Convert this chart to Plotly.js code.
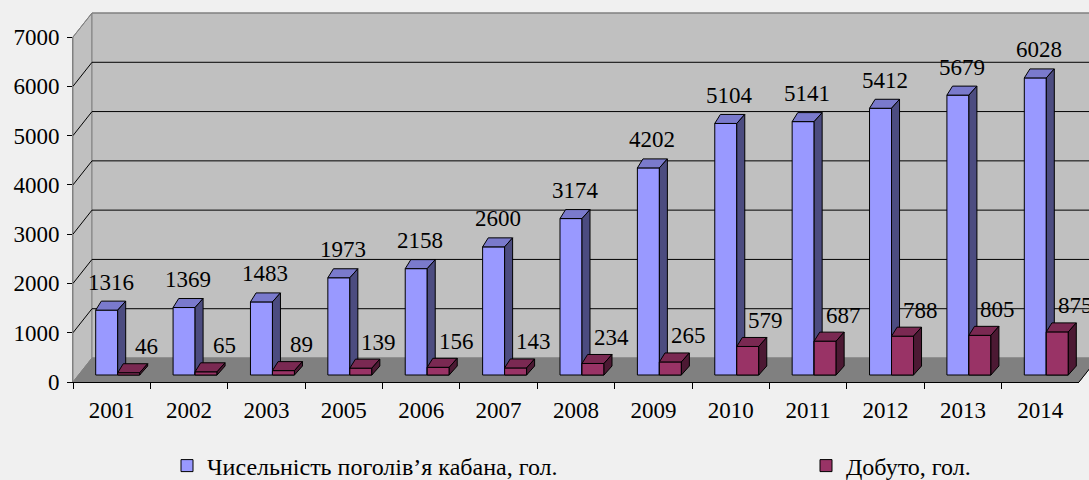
<!DOCTYPE html>
<html><head><meta charset="utf-8">
<script src="https://cdn.plot.ly/plotly-3.0.1.min.js"></script>
<style>html,body{margin:0;padding:0;background:#f0f0f0;} #chart{width:1089px;height:480px;}</style>
</head><body><div id="chart"></div>
<script>
// ---- data ----
const years = ['2001','2002','2003','2005','2006','2007','2008','2009','2010','2011','2012','2013','2014'];
const population = [1316,1369,1483,1973,2158,2600,3174,4202,5104,5141,5412,5679,6028];
const harvested = [46,65,89,139,156,143,234,265,579,687,788,805,875];
const seriesNames = ['Чисельність поголів’я кабана, гол.', 'Добуто, гол.'];
const yTicks = [0,1000,2000,3000,4000,5000,6000,7000];

// ---- geometry (pixels) ----
const W = 1089, H = 480;
const axisLeft = 73, axisRight = 1079;
const n = years.length;
const catW = (axisRight - axisLeft) / n;
const frontZeroPx = 382, frontTopPx = 37, yMax = 7000;
const k = (frontZeroPx - frontTopPx) / yMax;      // px per unit
const barBasePx = 375;
const wallDxPx = 19, wallDyPx = 24;
const barDxPx = 8, barDyPx = 9;
const barWpx = 22, blueLeftPx = -16;

const pxToX = px => (px - axisLeft) / catW - 0.5;
const xRange = [pxToX(0), pxToX(W)];
const yRange = [(barBasePx - H) / k, barBasePx / k];
const frontOff = -(frontZeroPx - barBasePx) / k;
const backOff = (barBasePx - (frontZeroPx - wallDyPx)) / k;
const xFront = -0.5, xBack = -0.5 + wallDxPx / catW, xEnd = n - 0.5 + wallDxPx / catW;

const bw = barWpx / catW;
const bl = blueLeftPx / catW;
const ddx = barDxPx / catW, ddy = barDyPx / k;
const idx = years.map((_, i) => i);
const blueX = idx.map(i => i + bl + bw / 2);
const redX = idx.map(i => i + bl + bw * 1.5);

function faces(centers, vals, kind) {
  const xs = [], ys = [];
  centers.forEach((c, i) => {
    const l = c - bw / 2, r = c + bw / 2, v = vals[i];
    let px, py;
    if (kind === 'front') { px = [l, r, r, l, l]; py = [0, 0, v, v, 0]; }
    else if (kind === 'top') { px = [l, l + ddx * 0.7, r + ddx, r, l]; py = [v, v + ddy, v + ddy, v, v]; }
    else { px = [r, r + ddx, r + ddx, r, r]; py = [0, ddy, v + ddy, v, 0]; }
    xs.push(...px, null); ys.push(...py, null);
  });
  return {xs, ys};
}
function faceTrace(centers, vals, kind, color) {
  const f = faces(centers, vals, kind);
  return {type: 'scatter', mode: 'lines', x: f.xs, y: f.ys, fill: 'toself', fillcolor: color,
    line: {color: '#000', width: 1}, hoverinfo: 'skip', showlegend: false, xaxis: 'x', yaxis: 'y'};
}

const serif = '"Liberation Serif", "Times New Roman", serif';
const blueC = ['#9999ff', '#7a7acc', '#4c4c80'];
const redC = ['#993366', '#7a2952', '#4c1933'];

const traces = [
  {type: 'bar', name: seriesNames[0], x: blueX, y: population, width: bw, base: 0, legend: 'legend',
   marker: {color: blueC[0], line: {color: '#000', width: 1}}, xaxis: 'x', yaxis: 'y'},
  {type: 'bar', name: seriesNames[1], x: redX, y: harvested, width: bw, base: 0, legend: 'legend2',
   marker: {color: redC[0], line: {color: '#000', width: 1}}, xaxis: 'x', yaxis: 'y'},
  faceTrace(blueX, population, 'top', blueC[1]),
  faceTrace(blueX, population, 'side', blueC[2]),
  faceTrace(redX, harvested, 'front', redC[0]),
  faceTrace(redX, harvested, 'top', redC[1]),
  faceTrace(redX, harvested, 'side', redC[2]),
  {type: 'scatter', mode: 'markers', x: years, y: years.map(() => 0), marker: {opacity: 0},
   hoverinfo: 'skip', showlegend: false, xaxis: 'x2', yaxis: 'y2'}
];

// walls, floor and gridlines
const shapes = [];
shapes.push({type: 'path', xref: 'x', yref: 'y', layer: 'below',
  path: `M${xFront},${frontOff} L${xBack},${backOff} L${xBack},${yMax + backOff} L${xFront},${yMax + frontOff} Z`,
  fillcolor: '#c0c0c0', line: {color: '#808080', width: 1}});
shapes.push({type: 'rect', xref: 'x', yref: 'y', layer: 'below',
  x0: xBack, x1: xEnd + 1, y0: backOff, y1: yMax + backOff,
  fillcolor: '#c0c0c0', line: {color: '#808080', width: 1}});
shapes.push({type: 'path', xref: 'x', yref: 'y', layer: 'below',
  path: `M${xFront},${frontOff} L${n - 0.5},${frontOff} L${xEnd},${backOff} L${xBack},${backOff} Z`,
  fillcolor: '#808080', line: {color: '#808080', width: 1}});
yTicks.filter(t => t > 0).forEach(t => {
  shapes.push({type: 'path', xref: 'x', yref: 'y', layer: 'below',
    path: `M${xFront},${t + frontOff} L${xBack},${t + backOff} L${xEnd + 1},${t + backOff}`,
    line: {color: t === yMax ? '#808080' : '#000', width: 1}});
});
shapes.push({type: 'line', xref: 'x', yref: 'y', layer: 'above',
  x0: n - 0.5, y0: frontOff, x1: xEnd, y1: backOff, line: {color: '#000', width: 1}});

const annotations = [];
population.forEach((v, i) => annotations.push({x: blueX[i], y: v, xref: 'x', yref: 'y', text: String(v),
  showarrow: false, xanchor: 'center', yanchor: 'middle', xshift: 4, yshift: 28, font: {family: serif, size: 23, color: '#000'}}));
harvested.forEach((v, i) => annotations.push({x: redX[i], y: v, xref: 'x', yref: 'y', text: String(v),
  showarrow: false, xanchor: 'center', yanchor: 'middle', xshift: 18, yshift: 26, font: {family: serif, size: 23, color: '#000'}}));

const legendBase = {orientation: 'h', xanchor: 'left', yanchor: 'middle', y: (H - 466) / H,
  bgcolor: 'rgba(0,0,0,0)', font: {family: serif, size: 24, color: '#000'}};

const layout = {
  width: W, height: H,
  margin: {l: 0, r: 0, t: 0, b: 0, pad: 0, autoexpand: false},
  paper_bgcolor: '#f0f0f0', plot_bgcolor: 'rgba(0,0,0,0)',
  barmode: 'overlay', showlegend: true,
  font: {family: serif, size: 20, color: '#000'},
  xaxis: {domain: [0, 1], range: xRange, visible: false, fixedrange: true},
  yaxis: {domain: [0, 1], range: yRange, visible: false, fixedrange: true},
  xaxis2: {domain: [axisLeft / W, axisRight / W], anchor: 'y2', type: 'category',
    categoryarray: years, categoryorder: 'array', range: [-0.5, n - 0.5],
    showline: true, linecolor: '#000', linewidth: 1, ticks: 'outside', tickson: 'boundaries',
    ticklen: 6, tickcolor: '#000', showgrid: false, zeroline: false, ticklabelstandoff: 7,
    tickfont: {family: serif, size: 23, color: '#000'}, fixedrange: true},
  yaxis2: {domain: [(H - frontZeroPx) / H, (H - frontTopPx) / H], anchor: 'x2', range: [0, yMax],
    tickvals: yTicks, showline: true, linecolor: '#808080', linewidth: 1, ticks: 'outside',
    ticklen: 5, tickcolor: '#000', showgrid: false, zeroline: false, ticklabelstandoff: 3,
    tickfont: {family: serif, size: 23, color: '#000'}, fixedrange: true},
  legend: Object.assign({}, legendBase, {x: 167 / W}),
  legend2: Object.assign({}, legendBase, {x: 806 / W}),
  shapes, annotations
};

Plotly.newPlot('chart', traces, layout, {displayModeBar: false, staticPlot: true});
</script>
</body></html>
